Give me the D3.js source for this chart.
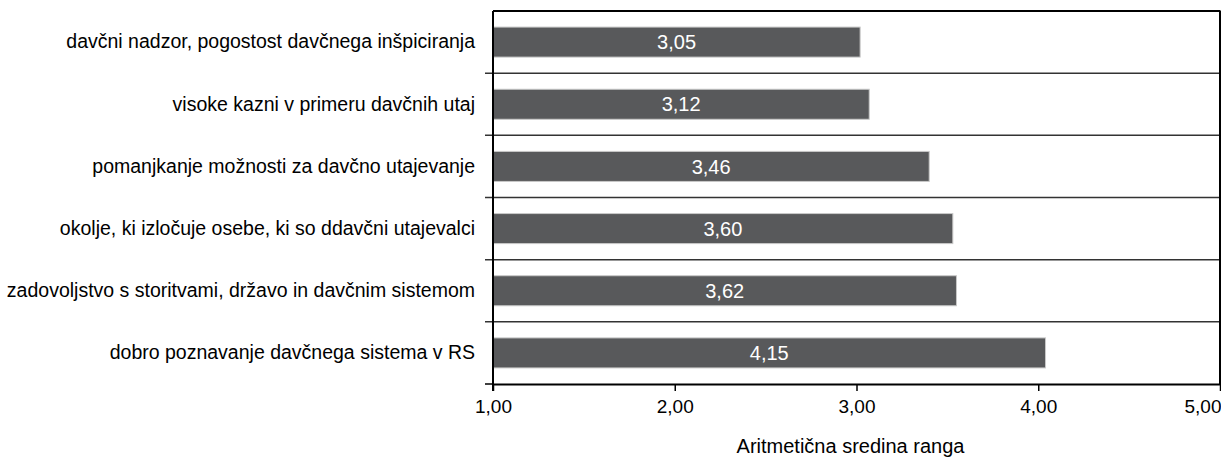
<!DOCTYPE html>
<meta charset="utf-8">
<style>
  body { margin: 0; background: #fff; }
  text { font-family: "Liberation Sans", Arial, sans-serif; }
  .grid line { stroke: #333; stroke-width: 1.5; }
</style>
<svg width="1221" height="459"></svg>
<script src="https://d3js.org/d3.v7.min.js"></script>
<script>

// categories, top to bottom
var categories = [
  "davčni nadzor, pogostost davčnega inšpiciranja",
  "visoke kazni v primeru davčnih utaj",
  "pomanjkanje možnosti za davčno utajevanje",
  "okolje, ki izločuje osebe, ki so ddavčni utajevalci",
  "zadovoljstvo s storitvami, državo in davčnim sistemom",
  "dobro poznavanje davčnega sistema v RS"
];
// printed means
var means = [3.05, 3.12, 3.46, 3.60, 3.62, 4.15];
// where the bars actually end against the axis in the picture
var barEnds = [3.02, 3.07, 3.40, 3.53, 3.55, 4.04];
var xTicks = [1, 2, 3, 4, 5];

var svg = d3.select("svg");
var mLeft = 493, mRight = 1220, mTop = 11, mBottom = 384;

var fmt = function(v) { return d3.format(".2f")(v).replace(".", ","); };

var x = d3.scaleLinear().domain([1, 5]).range([mLeft, mRight]);
var y = d3.scaleBand().domain(categories).range([mTop, mBottom])
    .paddingInner(0.517).paddingOuter(0.2585);

var step = y.step();

// row separators (with small ticks to the left of the axis)
svg.append("g").attr("class", "grid")
  .selectAll("line")
  .data(d3.range(1, categories.length))
  .enter().append("line")
    .attr("x1", mLeft - 8)
    .attr("x2", mRight)
    .attr("y1", function(i) { return mTop + i * step; })
    .attr("y2", function(i) { return mTop + i * step; });

// bars
svg.append("g")
  .selectAll("rect")
  .data(categories)
  .enter().append("rect")
    .attr("x", x(1))
    .attr("y", function(d) { return y(d); })
    .attr("width", function(d, i) { return x(barEnds[i]) - x(1); })
    .attr("height", y.bandwidth())
    .attr("fill", "#58595b")
    .attr("stroke", "#c9c9c9")
    .attr("stroke-width", 1);

// value labels
svg.append("g")
  .selectAll("text")
  .data(categories)
  .enter().append("text")
    .attr("x", function(d, i) { return (x(1) + x(barEnds[i])) / 2; })
    .attr("y", function(d) { return y(d) + y.bandwidth() / 2; })
    .attr("dy", "0.36em")
    .attr("text-anchor", "middle")
    .attr("fill", "#fff")
    .attr("font-size", 20)
    .text(function(d, i) { return fmt(means[i]); });

// frame: top and right
svg.append("line").attr("x1", mLeft).attr("x2", mRight + 0.5).attr("y1", mTop).attr("y2", mTop)
    .attr("stroke", "#000").attr("stroke-width", 2);
svg.append("line").attr("x1", mRight).attr("x2", mRight).attr("y1", mTop).attr("y2", mBottom)
    .attr("stroke", "#000").attr("stroke-width", 2);

// x axis
var gx = svg.append("g").attr("transform", "translate(0," + mBottom + ")")
  .call(d3.axisBottom(x).tickValues(xTicks).tickSize(7).tickSizeOuter(0).tickPadding(9).tickFormat(fmt));
gx.select(".domain").attr("stroke", "#000").attr("stroke-width", 2);
gx.selectAll(".tick line").attr("stroke", "#000").attr("stroke-width", 1.5);
gx.selectAll(".tick text").attr("font-size", 19).attr("fill", "#000")
  .attr("font-family", "'Liberation Sans', Arial, sans-serif")
  .attr("text-anchor", function(d) { return d === 5 ? "end" : "middle"; })
  .attr("dx", function(d) { return d === 5 ? 1 : 0; });

// y axis
var gy = svg.append("g").attr("transform", "translate(" + mLeft + ",0)")
  .call(d3.axisLeft(y).tickSize(0).tickPadding(18));
gy.select(".domain").attr("stroke", "#000").attr("stroke-width", 2)
  .attr("d", "M0," + mTop + "V" + (mBottom + 7));
gy.selectAll(".tick text").attr("font-size", 19.5).attr("fill", "#000")
  .attr("font-family", "'Liberation Sans', Arial, sans-serif");
// left tick at the bottom corner
svg.append("line").attr("x1", mLeft - 8).attr("x2", mLeft).attr("y1", mBottom).attr("y2", mBottom)
    .attr("stroke", "#000").attr("stroke-width", 1.5);

// axis title
svg.append("text")
    .attr("x", (mLeft + mRight) / 2 - 6)
    .attr("y", 453)
    .attr("text-anchor", "middle")
    .attr("font-size", 20)
    .attr("fill", "#000")
    .text("Aritmetična sredina ranga");

</script>
